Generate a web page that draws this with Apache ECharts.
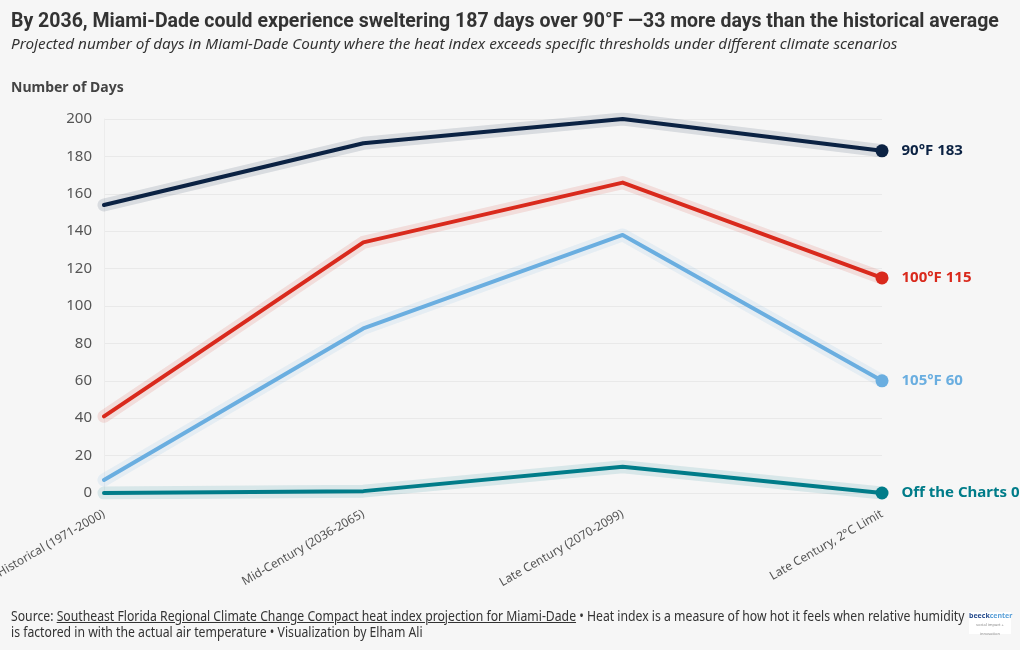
<!DOCTYPE html>
<html><head><meta charset="utf-8">
<script src="https://cdn.jsdelivr.net/npm/echarts@6/dist/echarts.min.js"></script>
<style>
html,body{margin:0;padding:0;background:#f6f6f6;}
#c{width:1020px;height:650px;}
#foot{position:absolute;left:11px;top:608px;width:1085px;font-family:"Noto Sans",sans-serif;font-size:13.5px;line-height:16px;color:#333;transform:scaleX(0.905);transform-origin:0 0;}
#foot u{text-decoration:underline;}
#logo{position:absolute;left:969px;top:612px;width:42px;height:22px;background:#fff;font-family:"Noto Sans",sans-serif;font-size:7px;line-height:8px;color:#2a4f8f;text-align:center;font-weight:bold;}
</style></head>
<body>
<div id="c"></div>
<div id="foot">Source: <u>Southeast Florida Regional Climate Change Compact heat index projection for Miami-Dade</u> • Heat index is a measure of how hot it feels when relative humidity<br>is factored in with the actual air temperature • Visualization by Elham Ali</div>
<div id="logo">beeck<span style="color:#5aa0d8">center</span><br><span style="font-size:4px;color:#888;font-weight:normal">social impact + innovation</span></div>
<script>
const categories = ["Historical (1971-2000)", "Mid-Century (2036-2065)", "Late Century (2070-2099)", "Late Century, 2°C Limit"];
const names = ["90°F", "100°F", "105°F", "Off the Charts"];
const v90 = [154, 187, 200, 183];
const v100 = [41, 134, 166, 115];
const v105 = [7, 88, 138, 60];
const vOff = [0, 1, 14, 0];
const yTicks = [0, 20, 40, 60, 80, 100, 120, 140, 160, 180, 200];
const colors = ["#0b2243", "#d9291c", "#6aaee0", "#007c89"];

const allData = [v90, v100, v105, vOff];
const chart = echarts.init(document.getElementById('c'));
const series = [];
allData.forEach((d, i) => {
  series.push({
    type: 'line', data: d, silent: true, symbol: 'none', z: 1,
    lineStyle: {width: 13, color: colors[i], opacity: 0.12, cap: 'round', join: 'round'}
  });
});
allData.forEach((d, i) => {
  series.push({
    type: 'line', name: names[i], data: d, z: 3,
    symbol: 'circle',
    symbolSize: (val, p) => p.dataIndex === d.length - 1 ? 13 : 0,
    itemStyle: {color: colors[i]},
    lineStyle: {width: 4, color: colors[i], cap: 'round', join: 'round'},
    label: {
      show: true, position: 'right', distance: 13,
      formatter: p => p.dataIndex === d.length - 1 ? names[i] + ' ' + p.value : '',
      color: colors[i], fontSize: 15, fontWeight: 'bold', fontFamily: 'Noto Sans'
    }
  });
});
chart.setOption({
  backgroundColor: '#f6f6f6',
  animation: false,
  textStyle: {fontFamily: 'Noto Sans'},
  title: [{
    text: 'By 2036, Miami-Dade could experience sweltering 187 days over 90°F —33 more days than the historical average',
    left: 11, top: 12, padding: 0,
    textStyle: {fontSize: 19.5, fontWeight: 'bold', color: '#333', fontFamily: 'Roboto'}
  }, {
    text: 'Projected number of days in Miami-Dade County where the heat index exceeds specific thresholds under different climate scenarios',
    left: 11, top: 37, padding: 0,
    textStyle: {fontSize: 15.3, fontStyle: 'italic', fontWeight: 'normal', color: '#333', fontFamily: 'Noto Sans'}
  }, {
    text: 'Number of Days', left: 11, top: 81, padding: 0,
    textStyle: {fontSize: 14, fontWeight: 'bold', color: '#444', fontFamily: 'Noto Sans'}
  }],
  grid: {left: 104, right: 138, top: 119, bottom: 157, containLabel: false, outerBoundsMode: 'none'},
  xAxis: {
    type: 'category', data: categories, boundaryGap: false,
    axisLine: {show: false}, axisTick: {show: false},
    splitLine: {show: false},
    axisLabel: {rotate: 30, color: '#555', fontSize: 12, margin: 20, interval: 0}
  },
  yAxis: {
    type: 'value', min: 0, max: 200, interval: 20,
    axisLine: {show: true, lineStyle: {color: '#ececec'}}, axisTick: {show: false},
    splitLine: {lineStyle: {color: '#e9e9e9'}},
    axisLabel: {color: '#555', fontSize: 15, margin: 12}
  },
  series: series
});
</script>
</body></html>
